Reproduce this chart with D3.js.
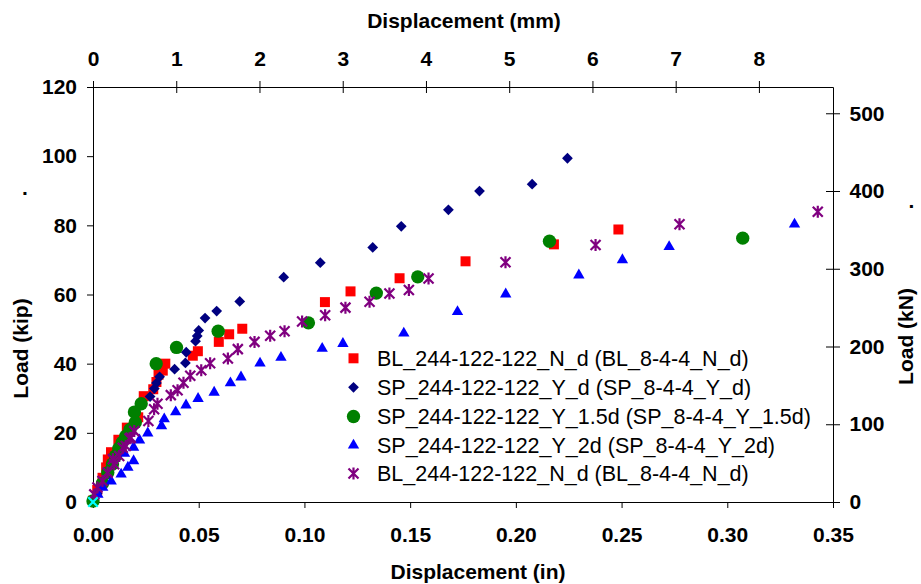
<!DOCTYPE html>
<html>
<head>
<meta charset="utf-8">
<script src="https://cdn.jsdelivr.net/npm/d3@7"></script>
<style>
  body { margin: 0; background: #fff; }
  svg { display: block; }
</style>
</head>
<body>
<svg id="chart" width="921" height="584"></svg>
<script>
// Load–displacement test data: [displacement (in), load (kip)]
const blNd = [
  [0.000, 0.4], [0.002, 3.5], [0.0045, 7.0], [0.0062, 10.0], [0.0070, 12.3], [0.0085, 14.4],
  [0.0120, 18.0], [0.0160, 21.5], [0.0214, 24.5], [0.0240, 30.6], [0.0285, 32.6], [0.0300, 34.7],
  [0.0310, 36.8], [0.0330, 38.0], [0.0342, 40.0], [0.0472, 42.3], [0.0496, 43.6], [0.0595, 46.3],
  [0.0644, 48.5], [0.0706, 50.1], [0.1097, 57.8], [0.1218, 60.9], [0.1450, 64.7], [0.1762, 69.6],
  [0.2180, 74.5], [0.2485, 78.8]
];
const spYd = [
  [0.000, 0.3], [0.002, 2.5], [0.005, 6.0], [0.009, 11.0], [0.013, 16.0], [0.0165, 20.0],
  [0.0185, 22.3], [0.0270, 30.5], [0.0290, 32.8], [0.0300, 34.4], [0.0315, 36.2], [0.0386, 38.4],
  [0.0437, 40.2], [0.0441, 43.3], [0.0485, 46.5], [0.0493, 48.0], [0.0500, 49.6], [0.0530, 53.2],
  [0.0585, 55.2], [0.0694, 58.0], [0.0902, 65.0], [0.1075, 69.2], [0.1323, 73.6], [0.1458, 79.7],
  [0.1681, 84.5], [0.1828, 89.9], [0.2077, 91.9], [0.2244, 99.4]
];
const spY15d = [
  [0.000, 0.3], [0.0045, 5.4], [0.0070, 8.5], [0.0092, 11.0], [0.0106, 13.3], [0.0122, 15.5],
  [0.0138, 17.2], [0.0155, 19.0], [0.0175, 21.0], [0.0200, 23.0], [0.0196, 26.0], [0.0228, 28.4],
  [0.0299, 40.0], [0.0395, 44.7], [0.0592, 49.4], [0.1019, 51.8], [0.1340, 60.4], [0.1536, 65.1],
  [0.2159, 75.4], [0.3073, 76.3]
];
const spY2d = [
  [0.0023, 2.2], [0.0046, 4.2], [0.0086, 6.0], [0.0133, 8.0], [0.0165, 10.0], [0.0192, 11.9],
  [0.0149, 14.0], [0.0192, 15.8], [0.0220, 17.9], [0.0259, 19.9], [0.0324, 22.0], [0.0337, 24.0],
  [0.0391, 26.0], [0.0440, 28.0], [0.0497, 29.9], [0.0573, 31.7], [0.0650, 34.4], [0.0700, 36.1],
  [0.0790, 40.1], [0.0889, 41.8], [0.1084, 44.4], [0.1182, 45.8], [0.1470, 48.8], [0.1724, 55.0],
  [0.1952, 60.1], [0.2298, 65.6], [0.2504, 70.0], [0.2725, 73.8], [0.3318, 80.3]
];
const blNd2 = [
  [0.0006, 2.2], [0.0021, 4.2], [0.0045, 6.1], [0.0069, 8.5], [0.0100, 10.9], [0.0094, 12.4],
  [0.0124, 13.3], [0.0141, 15.7], [0.0155, 16.2], [0.0173, 18.4], [0.0179, 18.6], [0.0195, 20.5],
  [0.0262, 23.4], [0.0289, 26.8], [0.0305, 28.4], [0.0368, 30.9], [0.0400, 32.3], [0.0428, 34.5],
  [0.0460, 36.5], [0.0512, 38.1], [0.0554, 40.1], [0.0638, 41.5], [0.0685, 44.2], [0.0764, 46.3],
  [0.0838, 48.1], [0.0906, 49.4], [0.0989, 52.2], [0.1098, 54.0], [0.1194, 56.2], [0.1308, 57.9],
  [0.1402, 60.3], [0.1494, 61.3], [0.1587, 64.6], [0.1951, 69.3], [0.2377, 74.3], [0.2774, 80.3],
  [0.3428, 83.9]
];
const originPt = [[0, 0]];

const legendLabels = [
  "BL_244-122-122_N_d (BL_8-4-4_N_d)",
  "SP_244-122-122_Y_d (SP_8-4-4_Y_d)",
  "SP_244-122-122_Y_1.5d (SP_8-4-4_Y_1.5d)",
  "SP_244-122-122_Y_2d (SP_8-4-4_Y_2d)",
  "BL_244-122-122_N_d (BL_8-4-4_N_d)"
];

const inTicks = [0, 0.05, 0.10, 0.15, 0.20, 0.25, 0.30, 0.35];
const mmTicks = [0, 1, 2, 3, 4, 5, 6, 7, 8];
const kipTicks = [0, 20, 40, 60, 80, 100, 120];
const knTicks = [0, 100, 200, 300, 400, 500];

const IN_TO_MM = 25.4;
const KIP_TO_KN = 4.448222;
const FONT = "'Liberation Sans', Arial, Helvetica, sans-serif";

const svg = d3.select("#chart");
svg.append("rect").attr("width", 921).attr("height", 584).attr("fill", "#fff");

const x = d3.scaleLinear().domain([0, 0.35]).range([93, 833]);
const y = d3.scaleLinear().domain([0, 120]).range([502, 87]);
const xMM = d3.scaleLinear().domain([0, 0.35 * IN_TO_MM]).range([93, 833]);
const yKN = d3.scaleLinear().domain([0, 120 * KIP_TO_KN]).range([502, 87]);

function styleAxis(g) {
  g.attr("font-family", FONT).attr("font-size", 21).attr("font-weight", "bold");
  g.selectAll("path.domain").attr("stroke", "#000");
  g.selectAll(".tick line").attr("stroke", "#000");
  g.selectAll(".tick text").attr("fill", "#000");
}

// bottom: inches
svg.append("g").attr("transform", "translate(0,502)")
  .call(d3.axisBottom(x).tickValues(inTicks).tickFormat(d3.format(".2f"))
    .tickSize(6).tickSizeOuter(0).tickPadding(19))
  .call(styleAxis);

// left: kip
svg.append("g").attr("transform", "translate(93,0)")
  .call(d3.axisLeft(y).tickValues(kipTicks).tickSize(6).tickSizeOuter(0).tickPadding(10))
  .call(styleAxis);

// top: millimetres, ticks cross the axis
svg.append("g").attr("transform", "translate(0,87)")
  .call(d3.axisTop(xMM).tickValues(mmTicks).tickFormat(d3.format("d"))
    .tickSize(6).tickSizeOuter(0).tickPadding(15))
  .call(styleAxis)
  .call(g => g.selectAll(".tick line").attr("y1", 6));

// right: kN, ticks cross the axis
svg.append("g").attr("transform", "translate(833,0)")
  .call(d3.axisRight(yKN).tickValues(knTicks).tickFormat(d3.format("d"))
    .tickSize(7).tickSizeOuter(0).tickPadding(9.5))
  .call(styleAxis)
  .call(g => g.selectAll(".tick line").attr("x1", -7));

// axis titles
const titles = svg.append("g").attr("font-family", FONT).attr("font-size", 21)
  .attr("font-weight", "bold").attr("fill", "#000");
titles.append("text").attr("x", 464).attr("y", 28).attr("text-anchor", "middle")
  .text("Displacement (mm)");
titles.append("text").attr("x", 478).attr("y", 579).attr("text-anchor", "middle")
  .text("Displacement (in)");
titles.append("text").attr("transform", "translate(28,348.5) rotate(-90)")
  .attr("text-anchor", "middle").text("Load (kip)");
titles.append("text").attr("transform", "translate(913,336.5) rotate(-90)")
  .attr("text-anchor", "middle").text("Load (kN)");
titles.append("text").attr("x", 25).attr("y", 194.5).attr("text-anchor", "middle").text(".");
titles.append("text").attr("x", 911.5).attr("y", 208).attr("text-anchor", "middle").text(".");

// marker shapes
const asterisk = {
  draw(ctx, size) {
    const r = Math.sqrt(size) / 2;
    ctx.moveTo(-r, -r); ctx.lineTo(r, r);
    ctx.moveTo(-r, r); ctx.lineTo(r, -r);
    ctx.moveTo(0, -r * 1.2); ctx.lineTo(0, r * 1.2);
  }
};
const cross = {
  draw(ctx, size) {
    const r = Math.sqrt(size) / 2;
    ctx.moveTo(-r, -r); ctx.lineTo(r, r);
    ctx.moveTo(-r, r); ctx.lineTo(r, -r);
  }
};

const series = [
  { data: blNd,   label: legendLabels[0], type: d3.symbolSquare,   size: 100, color: "#FF0000", stroke: false, rot: 0 },
  { data: spYd,   label: legendLabels[1], type: d3.symbolSquare,   size: 58,  color: "#000080", stroke: false, rot: 45 },
  { data: spY15d, label: legendLabels[2], type: d3.symbolCircle,   size: 140, color: "#008000", stroke: false, rot: 0 },
  { data: spY2d,  label: legendLabels[3], type: d3.symbolTriangle, size: 56,  color: "#0000FF", stroke: false, rot: 0 },
  { data: blNd2,  label: legendLabels[4], type: asterisk,          size: 100, color: "#800080", stroke: true,  rot: 0 },
  { data: originPt, label: null,          type: cross,             size: 90,  color: "#00FFFF", stroke: true,  rot: 0 }
];

function drawMarker(sel, s) {
  sel.attr("d", d3.symbol().type(s.type).size(s.size)());
  if (s.stroke) {
    sel.attr("fill", "none").attr("stroke", s.color).attr("stroke-width", 2.2);
  } else {
    sel.attr("fill", s.color).attr("stroke", "none");
  }
}

const plot = svg.append("g");
series.forEach(s => {
  plot.append("g").selectAll("path")
    .data(s.data)
    .join("path")
    .attr("transform", d => `translate(${x(d[0])},${y(d[1])}) rotate(${s.rot})`)
    .call(drawMarker, s);
});

// legend
const legendRows = [358.3, 387.3, 416.5, 445.3, 473.5];
const legend = svg.append("g");
series.filter(s => s.label).forEach((s, i) => {
  const row = legend.append("g").attr("transform", `translate(0,${legendRows[i]})`);
  row.append("path").attr("transform", `translate(353.5,0) rotate(${s.rot})`).call(drawMarker, s);
  row.append("text").attr("x", 377).attr("dy", "0.35em")
    .attr("font-family", FONT).attr("font-size", 21.5).attr("fill", "#000")
    .text(s.label);
});
</script>
</body>
</html>
